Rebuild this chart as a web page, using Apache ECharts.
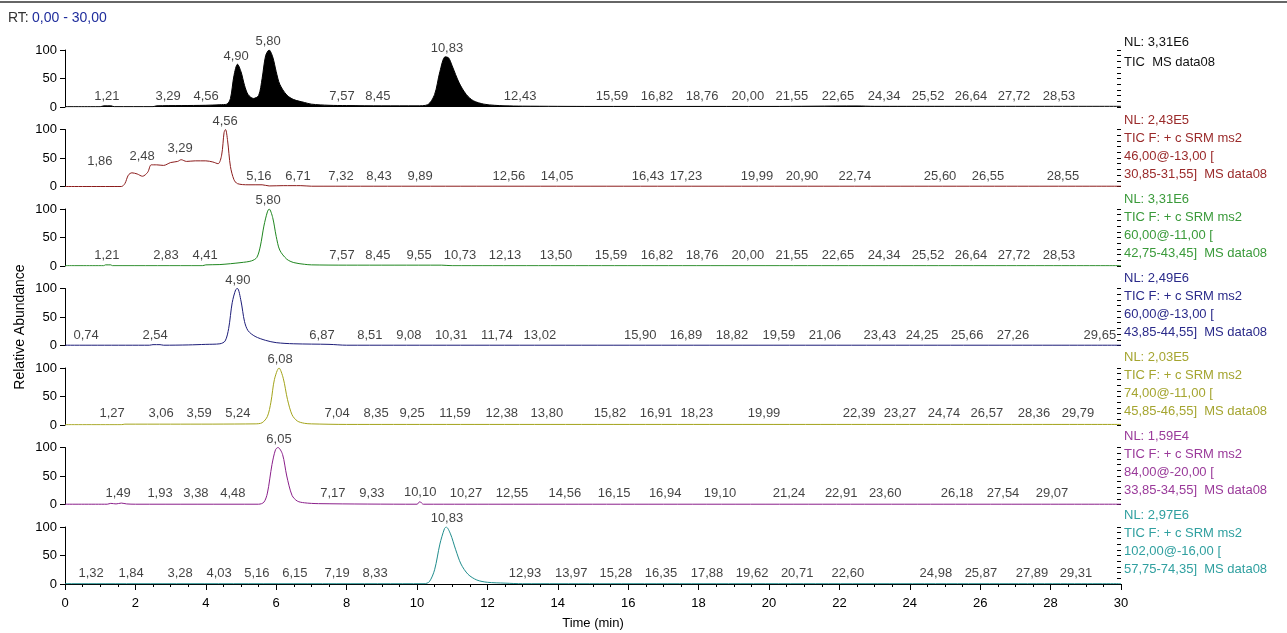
<!DOCTYPE html>
<html>
<head>
<meta charset="utf-8">
<script src="https://cdn.jsdelivr.net/npm/echarts@6/dist/echarts.min.js"></script>
<style>
  html, body { margin: 0; padding: 0; background: #fff; }
  #main { width: 1287px; height: 633px; }
</style>
</head>
<body>
<div id="main"></div>
<script>
// retention time axis
const rtTicks = [0, 2, 4, 6, 8, 10, 12, 14, 16, 18, 20, 22, 24, 26, 28, 30];

// traces: [time (min), relative abundance]
const ticTrace = [[0,0.5],[1.0,0.5],[1.1,2],[1.3,2],[1.4,0.6],[2.5,0.6],[2.6,2],[3.3,2.5],[4.0,3],[4.4,4],[4.6,5],[4.7,15],[4.8,55],[4.9,75],[5.0,62],[5.1,38],[5.2,22],[5.35,15],[5.5,20],[5.6,50],[5.7,90],[5.8,100],[5.9,88],[6.0,62],[6.1,40],[6.3,21],[6.5,13],[6.8,8],[7.0,5],[7.5,3],[8.0,2.5],[9.0,2],[10.0,2],[10.3,4],[10.5,22],[10.65,62],[10.8,88],[10.9,86],[11.0,72],[11.2,42],[11.4,22],[11.6,11],[11.9,5],[12.2,3],[12.5,2],[13.0,1.5],[15.0,1],[20.0,1],[22.5,1.8],[23.0,1.2],[30.0,1.2]];
const srm46Trace = [[0,0],[1.6,0],[1.7,5],[1.8,20],[1.9,24],[2.05,22],[2.2,18],[2.35,25],[2.45,38],[2.6,38],[2.8,37],[3.0,42],[3.2,44],[3.3,47],[3.45,44],[3.7,45],[4.0,45],[4.2,43],[4.35,40],[4.45,55],[4.52,95],[4.56,100],[4.62,80],[4.7,35],[4.8,12],[4.9,5],[5.2,3],[5.6,3],[5.8,1],[6.2,1.5],[6.7,1.5],[7.0,0.5],[30,0.5]];
const srm60aTrace = [[0,0.5],[1.1,0.5],[1.15,2],[1.3,2],[1.35,0.5],[3.9,0.5],[4.0,2],[4.4,2.5],[5.0,6],[5.3,9],[5.45,15],[5.55,35],[5.65,70],[5.75,95],[5.8,100],[5.9,85],[6.0,52],[6.1,28],[6.3,12],[6.5,6],[6.8,3],[7.0,2],[8.0,1.5],[10.7,1.5],[11.0,0.5],[30,0.5]];
const srm60bTrace = [[0,0.5],[2.4,0.5],[2.5,1.5],[2.7,1.5],[2.8,0.5],[3.5,1],[4.0,2],[4.4,3],[4.55,8],[4.65,30],[4.75,75],[4.85,98],[4.9,100],[5.0,78],[5.1,42],[5.2,26],[5.4,16],[5.7,9],[6.0,5],[6.5,3],[7.5,2],[8.0,0.5],[30,0.5]];
const srm74Trace = [[0,0.5],[1.6,0.5],[1.7,1.5],[3.0,1.5],[5.4,2],[5.6,4],[5.75,15],[5.85,40],[5.95,80],[6.08,100],[6.2,82],[6.32,45],[6.45,18],[6.6,7],[6.8,3],[7.0,2],[8.0,1],[30,1]];
const srm84Trace = [[0,0.5],[1.2,0.5],[1.3,2],[1.45,1],[1.6,2.5],[1.75,1],[2.0,0.5],[5.5,0.5],[5.65,4],[5.75,20],[5.88,70],[5.98,96],[6.05,100],[6.18,88],[6.3,50],[6.45,16],[6.6,6],[6.8,3],[7.2,1.5],[10.0,0.5],[10.08,5],[10.18,0.5],[30,0.5]];
const srm102Trace = [[0,0.5],[10.2,0.5],[10.35,4],[10.5,25],[10.65,70],[10.78,97],[10.83,100],[10.95,88],[11.1,60],[11.25,35],[11.45,17],[11.7,7],[12.0,3],[12.5,1.5],[13.0,0.5],[30,0.5]];

// peak labels: text, position (min), height (relative abundance)
const ticLabelText = ['1,21','3,29','4,56','4,90','5,80','7,57','8,45','10,83','12,43','15,59','16,82','18,76','20,00','21,55','22,65','24,34','25,52','26,64','27,72','28,53'];
const ticLabelRt = [1.19,2.93,4.01,4.86,5.77,7.87,8.89,10.85,12.93,15.54,16.82,18.10,19.40,20.65,21.96,23.27,24.52,25.74,26.96,28.24];
const ticLabelAb = [3,3,3,74,100,3,3,88,3,3,3,3,3,3,3,3,3,3,3,3];

const srm46LabelText = ['1,86','2,48','3,29','4,56','5,16','6,71','7,32','8,43','9,89','12,56','14,05','16,43','17,23','19,99','20,90','22,74','25,60','26,55','28,55'];
const srm46LabelRt = [0.99,2.19,3.27,4.55,5.51,6.62,7.84,8.92,10.09,12.61,13.98,16.56,17.64,19.66,20.94,22.44,24.86,26.22,28.35];
const srm46LabelAb = [29,38,52,100,3,3,3,3,3,3,3,3,3,3,3,3,3,3,3];

const srm60aLabelText = ['1,21','2,83','4,41','5,80','7,57','8,45','9,55','10,73','12,13','13,50','15,59','16,82','18,76','20,00','21,55','22,65','24,34','25,52','26,64','27,72','28,53'];
const srm60aLabelRt = [1.19,2.87,3.98,5.77,7.87,8.89,10.06,11.22,12.50,13.95,15.51,16.82,18.10,19.40,20.65,21.96,23.27,24.52,25.74,26.96,28.24];
const srm60aLabelAb = [3,3,3,100,3,3,3,3,3,3,3,3,3,3,3,3,3,3,3,3,3];

const srm60bLabelText = ['0,74','2,54','4,90','6,87','8,51','9,08','10,31','11,74','13,02','15,90','16,89','18,82','19,59','21,06','23,43','24,25','25,66','27,26','29,65'];
const srm60bLabelRt = [0.60,2.56,4.91,7.30,8.66,9.77,10.97,12.27,13.49,16.34,17.64,18.95,20.28,21.59,23.15,24.35,25.63,26.93,29.40];
const srm60bLabelAb = [3,3,100,3,3,3,3,3,3,3,3,3,3,3,3,3,3,3,3];

const srm74LabelText = ['1,27','3,06','3,59','5,24','6,08','7,04','8,35','9,25','11,59','12,38','13,80','15,82','16,91','18,23','19,99','22,39','23,27','24,74','26,57','28,36','29,79'];
const srm74LabelRt = [1.34,2.73,3.81,4.91,6.11,7.73,8.84,9.86,11.08,12.41,13.69,15.48,16.79,17.95,19.86,22.56,23.72,24.97,26.19,27.53,28.78];
const srm74LabelAb = [5,5,5,5,100,5,5,5,5,5,5,5,5,5,5,5,5,5,5,5,5];

const srm84LabelText = ['1,49','1,93','3,38','4,48','6,05','7,17','9,33','10,10','10,27','12,55','14,56','16,15','16,94','19,10','21,24','22,91','23,60','26,18','27,54','29,07'];
const srm84LabelRt = [1.51,2.70,3.72,4.77,6.08,7.61,8.72,10.09,11.39,12.70,14.20,15.60,17.05,18.61,20.57,22.05,23.30,25.34,26.65,28.04];
const srm84LabelAb = [5,5,5,5,100,5,5,7,5,5,5,5,5,5,5,5,5,5,5,5];

const srm102LabelText = ['1,32','1,84','3,28','4,03','5,16','6,15','7,19','8,33','10,83','12,93','13,97','15,28','16,35','17,88','19,62','20,71','22,60','24,98','25,87','27,89','29,31'];
const srm102LabelRt = [0.74,1.88,3.27,4.38,5.45,6.53,7.73,8.81,10.85,13.07,14.38,15.65,16.93,18.24,19.52,20.80,22.24,24.74,26.02,27.47,28.72];
const srm102LabelAb = [3,3,3,3,3,3,3,3,100,3,3,3,3,3,3,3,3,3,3,3,3];

// right-hand annotations
const panelInfo = [
  'NL: 3,31E6\nTIC  MS data08',
  'NL: 2,43E5\nTIC F: + c SRM ms2\n46,00@-13,00 [\n30,85-31,55]  MS data08',
  'NL: 3,31E6\nTIC F: + c SRM ms2\n60,00@-11,00 [\n42,75-43,45]  MS data08',
  'NL: 2,49E6\nTIC F: + c SRM ms2\n60,00@-13,00 [\n43,85-44,55]  MS data08',
  'NL: 2,03E5\nTIC F: + c SRM ms2\n74,00@-11,00 [\n45,85-46,55]  MS data08',
  'NL: 1,59E4\nTIC F: + c SRM ms2\n84,00@-20,00 [\n33,85-34,55]  MS data08',
  'NL: 2,97E6\nTIC F: + c SRM ms2\n102,00@-16,00 [\n57,75-74,35]  MS data08'
];

const traces = [ticTrace, srm46Trace, srm60aTrace, srm60bTrace, srm74Trace, srm84Trace, srm102Trace];
const labelTexts = [ticLabelText, srm46LabelText, srm60aLabelText, srm60bLabelText, srm74LabelText, srm84LabelText, srm102LabelText];
const labelRts = [ticLabelRt, srm46LabelRt, srm60aLabelRt, srm60bLabelRt, srm74LabelRt, srm84LabelRt, srm102LabelRt];
const labelAbs = [ticLabelAb, srm46LabelAb, srm60aLabelAb, srm60bLabelAb, srm74LabelAb, srm84LabelAb, srm102LabelAb];
const traceColors = ['#000000', '#8b1c1c', '#1f861f', '#1c1c78', '#a3a31a', '#8a1f8a', '#1f8c8c'];
const textColors = ['#111111', '#9a2a2a', '#3a9a3a', '#2a2a8a', '#a5a530', '#9a3a9a', '#30a0a0'];

const FONT = '"Liberation Sans", Arial, sans-serif';
const chart = echarts.init(document.getElementById('main'));

const PANEL_TOP = 50, PANEL_STEP = 79.5, PANEL_H = 57;
const grids = [], xAxes = [], yAxes = [], series = [], graphics = [];

traces.forEach((trace, i) => {
  const last = i === traces.length - 1;
  const top = PANEL_TOP + i * PANEL_STEP;
  grids.push({ left: 65, right: 166, top: top, height: PANEL_H });
  xAxes.push({
    type: 'value', gridIndex: i, min: rtTicks[0], max: rtTicks[rtTicks.length - 1], interval: 2,
    axisLine: { show: last, lineStyle: { color: '#000', width: 1 } },
    axisTick: { show: last, length: 6, lineStyle: { color: '#000' } },
    minorTick: { show: last, splitNumber: 4, length: 3, lineStyle: { color: '#000' } },
    axisLabel: { show: last, color: '#000', fontSize: 13, fontFamily: FONT, margin: 13 },
    splitLine: { show: false },
    name: last ? 'Time (min)' : '',
    nameLocation: 'middle', nameGap: 33,
    nameTextStyle: { color: '#000', fontSize: 13, fontFamily: FONT }
  });
  // labelled axis with outward major ticks
  yAxes.push({
    type: 'value', gridIndex: i, min: 0, max: 100, interval: 50,
    axisLine: { show: true, lineStyle: { color: '#000', width: 1 } },
    axisTick: { show: true, length: 5, lineStyle: { color: '#000' } },
    axisLabel: { color: '#000', fontSize: 13, fontFamily: FONT, margin: 8 },
    splitLine: { show: false }
  });
  // inner minor ticks
  yAxes.push({
    type: 'value', gridIndex: i, min: 0, max: 100, interval: 50,
    axisLine: { show: false },
    axisTick: { show: true, inside: true, length: 4, lineStyle: { color: '#000' } },
    minorTick: { show: true, splitNumber: 5, length: 4, lineStyle: { color: '#000' } },
    axisLabel: { show: false },
    splitLine: { show: false }
  });
  series.push({
    type: 'line', xAxisIndex: i, yAxisIndex: i * 2,
    data: trace, showSymbol: false, smooth: 0.3,
    lineStyle: { color: traceColors[i], width: 1 },
    areaStyle: i === 0 ? { color: '#000', opacity: 1 } : undefined,
    silent: true, z: 3
  });
  series.push({
    type: 'scatter', xAxisIndex: i, yAxisIndex: i * 2,
    symbolSize: 0,
    data: labelTexts[i].map((t, k) => ({ name: t, value: [labelRts[i][k], labelAbs[i][k]] })),
    label: {
      show: true, position: 'top', distance: 2,
      formatter: p => p.name,
      color: '#111', fontSize: 13, fontFamily: FONT
    },
    silent: true, z: 5
  });
  graphics.push({
    type: 'text', left: 1124, top: 32 + i * 79,
    style: {
      text: panelInfo[i], fill: textColors[i],
      font: '13px ' + FONT, lineHeight: i === 0 ? 20 : 18
    }
  });
});

graphics.push({
  type: 'line', shape: { x1: 0, y1: 2, x2: 1287, y2: 2 },
  style: { stroke: '#333', lineWidth: 1.5 }
});
graphics.push({
  type: 'text', left: 8, top: 11,
  style: {
    text: '{a|RT:} {b|0,00 - 30,00}',
    rich: {
      a: { fill: '#333', font: '14px ' + FONT },
      b: { fill: '#1f2d9c', font: '14px ' + FONT }
    }
  }
});
graphics.push({
  type: 'text', x: 20, y: 327, rotation: Math.PI / 2,
  style: {
    text: 'Relative Abundance', fill: '#000', font: '14px ' + FONT,
    textAlign: 'center', textVerticalAlign: 'middle'
  }
});

chart.setOption({
  animation: false,
  grid: grids,
  xAxis: xAxes,
  yAxis: yAxes,
  series: series,
  graphic: graphics
});
window.addEventListener('resize', () => chart.resize());
</script>
</body>
</html>
